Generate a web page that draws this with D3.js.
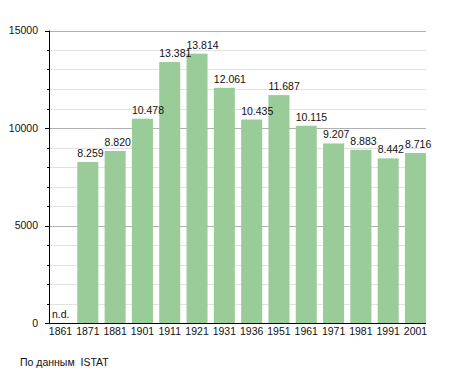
<!DOCTYPE html>
<html lang="ru">
<head>
  <meta charset="utf-8">
  <title>Население</title>
  <script src="https://d3js.org/d3.v7.min.js"></script>
  <style>
    html, body { margin: 0; padding: 0; background: #fff; }
    svg { display: block; font-family: "Liberation Sans", Arial, sans-serif; }
  </style>
</head>
<body>
<div id="chart"></div>
<script>
  ////////////////////////////////////////////////// DATA
  var years  = ["1861", "1871", "1881", "1901", "1911", "1921", "1931",
                "1936", "1951", "1961", "1971", "1981", "1991", "2001"];
  var people = [null, 8259, 8820, 10478, 13381, 13814, 12061,
                10435, 11687, 10115, 9207, 8883, 8442, 8716];
  var labels = ["n.d.", "8.259", "8.820", "10.478", "13.381", "13.814", "12.061",
                "10.435", "11.687", "10.115", "9.207", "8.883", "8.442", "8.716"];
  var majorTicks = [0, 5000, 10000, 15000];
  var minorTicks = d3.range(0, 15001, 1000);
  var source = "По данным  ISTAT";

  ////////////////////////////////////////////////// SETUP
  var width = 455, height = 373;
  var plotLeft = 50, plotRight = 426, plotTop = 30.5, plotBottom = 323;

  var svg = d3.select("#chart").append("svg")
      .attr("width", width)
      .attr("height", height);

  var x = d3.scaleBand()
      .domain(years)
      .range([plotLeft, plotRight])
      .paddingInner(0.23)
      .paddingOuter(0);

  var y = d3.scaleLinear()
      .domain([0, 15000])
      .range([plotBottom, plotTop]);

  var rows = years.map((d, i) => ({year: d, value: people[i], label: labels[i]}));

  // grid lines (minor light, major darker)
  svg.append("g")
    .selectAll("line")
    .data(minorTicks.filter(d => majorTicks.indexOf(d) < 0))
    .join("line")
      .attr("x1", plotLeft).attr("x2", plotRight)
      .attr("y1", d => Math.round(y(d)) + 0.5)
      .attr("y2", d => Math.round(y(d)) + 0.5)
      .attr("stroke", "#e2e2e2");

  svg.append("g")
    .selectAll("line")
    .data(majorTicks.filter(d => d > 0))
    .join("line")
      .attr("x1", plotLeft).attr("x2", plotRight)
      .attr("y1", d => Math.round(y(d)) + 0.5)
      .attr("y2", d => Math.round(y(d)) + 0.5)
      .attr("stroke", "#b0b0b0");

  // bars
  svg.append("g")
    .selectAll("rect")
    .data(rows.filter(d => d.value != null))
    .join("rect")
      .attr("x", d => x(d.year))
      .attr("y", d => y(d.value))
      .attr("width", x.bandwidth())
      .attr("height", d => y(0) - y(d.value))
      .attr("fill", "#99cc99");

  // value labels
  svg.append("g")
      .attr("font-size", 10.5)
      .attr("fill", "#111")
    .selectAll("text")
    .data(rows)
    .join("text")
      .attr("x", d => x(d.year) + (d.value == null ? 2 : 0))
      .attr("y", d => y(d.value == null ? 0 : d.value) - 5)
      .text(d => d.label);

  // y axis
  var yAxis = svg.append("g");
  yAxis.selectAll("line.minor")
    .data(minorTicks)
    .join("line")
      .attr("class", "minor")
      .attr("x1", plotLeft - 3).attr("x2", plotLeft)
      .attr("y1", d => Math.round(y(d)) + 0.5)
      .attr("y2", d => Math.round(y(d)) + 0.5)
      .attr("stroke", "#000");
  yAxis.selectAll("line.major")
    .data(majorTicks)
    .join("line")
      .attr("class", "major")
      .attr("x1", plotLeft - 5).attr("x2", plotLeft)
      .attr("y1", d => Math.round(y(d)) + 0.5)
      .attr("y2", d => Math.round(y(d)) + 0.5)
      .attr("stroke", "#000");
  yAxis.selectAll("text")
    .data(majorTicks)
    .join("text")
      .attr("x", plotLeft - 12)
      .attr("y", d => y(d))
      .attr("dy", "0.35em")
      .attr("text-anchor", "end")
      .attr("font-size", 10.5)
      .attr("fill", "#111")
      .text(d => d);
  yAxis.append("line")
      .attr("x1", plotLeft - 0.5).attr("x2", plotLeft - 0.5)
      .attr("y1", plotTop).attr("y2", plotBottom + 1)
      .attr("stroke", "#000");

  // x axis
  svg.append("line")
      .attr("x1", plotLeft).attr("x2", plotRight)
      .attr("y1", Math.round(y(0)) + 0.5).attr("y2", Math.round(y(0)) + 0.5)
      .attr("stroke", "#000");
  svg.append("g")
    .selectAll("text")
    .data(years)
    .join("text")
      .attr("x", d => x(d) + x.bandwidth() / 2)
      .attr("y", plotBottom + 12)
      .attr("text-anchor", "middle")
      .attr("font-size", 10.5)
      .attr("fill", "#111")
      .text(d => d);

  // source
  svg.append("text")
      .attr("x", 20)
      .attr("y", 366)
      .attr("font-size", 10.5)
      .attr("fill", "#111")
      .attr("xml:space", "preserve")
      .style("white-space", "pre")
      .text(source);
</script>
</body>
</html>
